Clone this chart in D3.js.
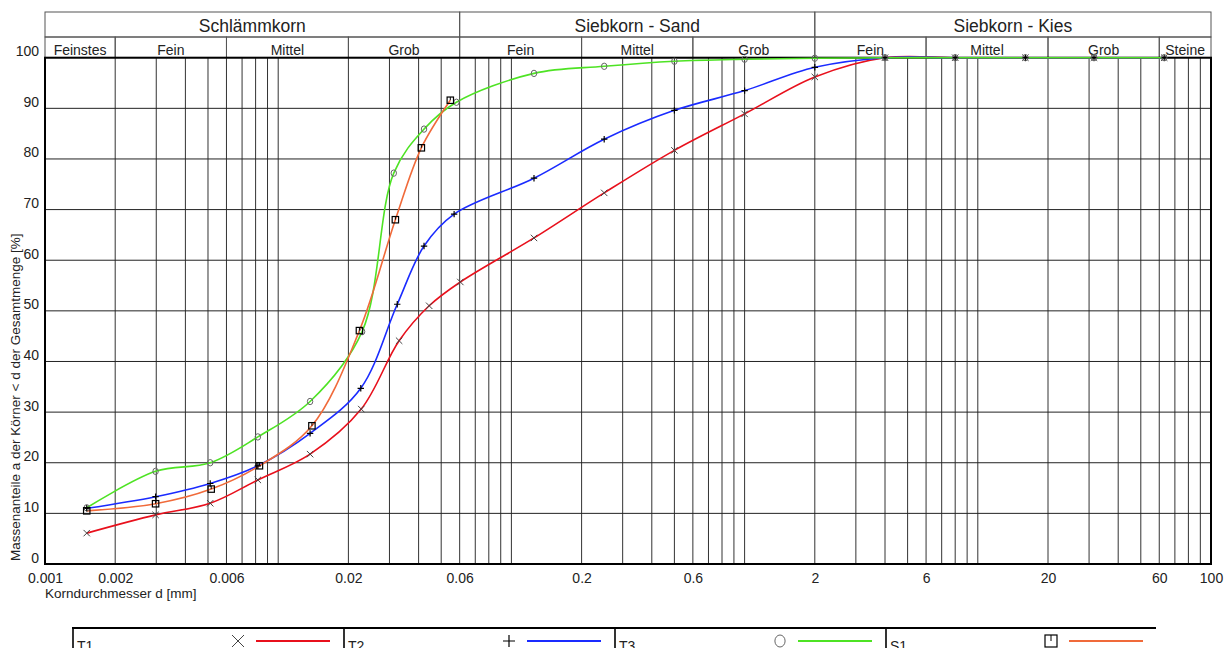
<!DOCTYPE html>
<html>
<head>
<meta charset="utf-8">
<script src="https://cdn.jsdelivr.net/npm/d3@7"></script>
<style>
  body { margin: 0; background: #fff; }
  text { font-family: "Liberation Sans", Arial, sans-serif; fill: #222; }
</style>
</head>
<body>
<script>
// sieve sizes [mm], shared by the three samples that were sieved
var sieveSizes = [0.125, 0.25, 0.5, 1, 2, 4, 8, 16, 31.5, 63];

// hydrometer (Schlämm) diameters [mm] and passing [%] per sample
var t1Diam = [0.00151, 0.00298, 0.00511, 0.00818, 0.0137, 0.0227, 0.0330, 0.0444, 0.0604];
var t1Pass = [6.1, 9.7, 12.0, 16.6, 21.7, 30.6, 44.1, 51.0, 55.7];
var t1Sieve = [64.4, 73.3, 81.7, 88.9, 96.2, 100, 100, 100, 100, 100];

var t2Diam = [0.00151, 0.00298, 0.00511, 0.00818, 0.0137, 0.0226, 0.0324, 0.0422, 0.0568];
var t2Pass = [11.0, 13.3, 15.9, 19.4, 25.8, 34.7, 51.3, 62.8, 69.1];
var t2Sieve = [76.2, 83.9, 89.6, 93.5, 98.1, 100, 100, 100, 100, 100];

var t3Diam = [0.00151, 0.00298, 0.00511, 0.00818, 0.0137, 0.0229, 0.0313, 0.0422, 0.0581];
var t3Pass = [11.1, 18.3, 20.0, 25.1, 32.1, 45.9, 77.2, 85.9, 91.2];
var t3Sieve = [96.9, 98.3, 99.3, 99.7, 99.9, 100, 100, 100, 100, 100];

var s1Diam = [0.00151, 0.00298, 0.00516, 0.00831, 0.01395, 0.0223, 0.0318, 0.0411, 0.0547];
var s1Pass = [10.5, 11.9, 14.8, 19.4, 27.3, 46.1, 68.0, 82.2, 91.6];

var seriesNames = ["T1", "T2", "T3", "S1"];

// axis ticks
var xTickValues = [0.001, 0.002, 0.006, 0.02, 0.06, 0.2, 0.6, 2, 6, 20, 60, 100];
var yTickValues = [0, 10, 20, 30, 40, 50, 60, 70, 80, 90, 100];

// header bands
var mainBands = [
  ["Schlämmkorn", 0.001, 0.06],
  ["Siebkorn - Sand", 0.06, 2],
  ["Siebkorn - Kies", 2, 100]
];
var subBands = [
  ["Feinstes", 0.001, 0.002], ["Fein", 0.002, 0.006], ["Mittel", 0.006, 0.02], ["Grob", 0.02, 0.06],
  ["Fein", 0.06, 0.2], ["Mittel", 0.2, 0.6], ["Grob", 0.6, 2],
  ["Fein", 2, 6], ["Mittel", 6, 20], ["Grob", 20, 60], ["Steine", 60, 100]
];

var series = [
  { name: "T1", d: t1Diam.concat(sieveSizes), v: t1Pass.concat(t1Sieve) },
  { name: "T2", d: t2Diam.concat(sieveSizes), v: t2Pass.concat(t2Sieve) },
  { name: "T3", d: t3Diam.concat(sieveSizes), v: t3Pass.concat(t3Sieve) },
  { name: "S1", d: s1Diam, v: s1Pass }
];
var colors = { T1: "#e8101c", T2: "#1a2bff", T3: "#4ee324", S1: "#f06a3a" };
var symbols = { T1: "cross", T2: "plus", T3: "circle", S1: "square" };

var svg = d3.select("body").append("svg").attr("width", 1231).attr("height", 648);

var pL = 45, pR = 1211, pT = 57.7, pB = 564;
var x = d3.scaleLog().domain([0.001, 100]).range([pL, pR]);
var y = d3.scaleLinear().domain([0, 100]).range([pB, pT]);

// grid: 1..9 in every decade
var gridX = [];
d3.range(-3, 2).forEach(function(p) {
  d3.range(1, 10).forEach(function(k) { gridX.push(k * Math.pow(10, p)); });
});

svg.append("g").selectAll("line").data(gridX.slice(1)).enter().append("line")
  .attr("x1", function(d) { return x(d); }).attr("x2", function(d) { return x(d); })
  .attr("y1", pT).attr("y2", pB)
  .attr("stroke", "#333").attr("stroke-width", 1);

svg.append("g").selectAll("line").data(yTickValues.slice(1, -1)).enter().append("line")
  .attr("x1", pL).attr("x2", pR)
  .attr("y1", function(d) { return y(d); }).attr("y2", function(d) { return y(d); })
  .attr("stroke", "#222").attr("stroke-width", 1);

// header
var hTop = 12, hMid = 37;
var hdr = svg.append("g");
hdr.selectAll("rect.main").data(mainBands).enter().append("rect")
  .attr("x", function(d) { return x(d[1]); }).attr("y", hTop)
  .attr("width", function(d) { return x(d[2]) - x(d[1]); }).attr("height", hMid - hTop)
  .attr("fill", "none").attr("stroke", "#555");
hdr.selectAll("rect.sub").data(subBands).enter().append("rect")
  .attr("x", function(d) { return x(d[1]); }).attr("y", hMid)
  .attr("width", function(d) { return x(d[2]) - x(d[1]); }).attr("height", pT - hMid)
  .attr("fill", "none").attr("stroke", "#555");
hdr.selectAll("text.main").data(mainBands).enter().append("text")
  .attr("x", function(d) { return (x(d[1]) + x(d[2])) / 2; }).attr("y", 32)
  .attr("text-anchor", "middle").style("font-size", "17.5px")
  .text(function(d) { return d[0]; });
hdr.selectAll("text.sub").data(subBands).enter().append("text")
  .attr("x", function(d) { return (x(d[1]) + x(d[2])) / 2; }).attr("y", 55)
  .attr("text-anchor", "middle").style("font-size", "14px")
  .text(function(d) { return d[0]; });

// frame
svg.append("rect").attr("x", pL).attr("y", pT)
  .attr("width", pR - pL).attr("height", pB - pT)
  .attr("fill", "none").attr("stroke", "#000").attr("stroke-width", 2);

// axes (labels only)
var xAxis = svg.append("g").attr("transform", "translate(0," + pB + ")")
  .call(d3.axisBottom(x).tickValues(xTickValues).tickSize(0).tickFormat(function(d) { return String(d); }));
xAxis.select(".domain").remove();
xAxis.selectAll("text").attr("y", 19).attr("dy", 0).style("font-size", "14px").attr("fill", "#222");

var yAxis = svg.append("g").attr("transform", "translate(" + 39 + ",0)")
  .call(d3.axisLeft(y).tickValues(yTickValues).tickSize(0));
yAxis.select(".domain").remove();
yAxis.selectAll("text").attr("x", 0).attr("dy", -2).attr("y", 0).style("font-size", "14px").attr("fill", "#222");

svg.append("text").attr("x", pL).attr("y", 598).style("font-size", "13.5px")
  .text("Korndurchmesser d [mm]");
svg.append("text").attr("transform", "translate(20,561) rotate(-90)")
  .style("font-size", "13.5px")
  .text("Massenanteile a der Körner < d der Gesamtmenge [%]");

// curves
var line = d3.line()
  .x(function(p) { return x(p[0]); })
  .y(function(p) { return y(p[1]); })
  .curve(d3.curveCatmullRom.alpha(0.5));

function pts(s) { return s.d.map(function(d, i) { return [d, s.v[i]]; }); }

svg.append("g").selectAll("path").data(series).enter().append("path")
  .attr("d", function(s) { return line(pts(s)); })
  .attr("fill", "none").attr("stroke", function(s) { return colors[s.name]; })
  .attr("stroke-width", 1.6);

function drawSymbol(g, type, cx, cy, r) {
  if (type === "cross") {
    g.append("path").attr("d", "M" + (cx - r) + "," + (cy - r) + "L" + (cx + r) + "," + (cy + r) +
      "M" + (cx - r) + "," + (cy + r) + "L" + (cx + r) + "," + (cy - r))
      .attr("stroke", "#444").attr("stroke-width", 1).attr("fill", "none");
  } else if (type === "plus") {
    g.append("path").attr("d", "M" + (cx - r) + "," + cy + "L" + (cx + r) + "," + cy +
      "M" + cx + "," + (cy - r) + "L" + cx + "," + (cy + r))
      .attr("stroke", "#000").attr("stroke-width", 1.2).attr("fill", "none");
  } else if (type === "circle") {
    g.append("ellipse").attr("cx", cx).attr("cy", cy).attr("rx", r * 0.85).attr("ry", r)
      .attr("stroke", "#666").attr("stroke-width", 1).attr("fill", "none");
  } else {
    g.append("rect").attr("x", cx - r).attr("y", cy - r).attr("width", 2 * r).attr("height", 2 * r)
      .attr("stroke", "#000").attr("stroke-width", 1.2).attr("fill", "none");
    g.append("line").attr("x1", cx).attr("x2", cx).attr("y1", cy - r).attr("y2", cy)
      .attr("stroke", "#000").attr("stroke-width", 1);
  }
}

var marks = svg.append("g");
series.forEach(function(s) {
  s.d.forEach(function(d, i) {
    drawSymbol(marks, symbols[s.name], x(d), y(s.v[i]), 3.2);
  });
});

// legend
var legLeft = 73, cellW = 271, legTop = 628, legY = 641;
var leg = svg.append("g");
leg.append("line").attr("x1", legLeft - 1).attr("x2", legLeft + cellW * 4 - 1)
  .attr("y1", legTop).attr("y2", legTop).attr("stroke", "#000").attr("stroke-width", 2.2);
seriesNames.forEach(function(n, i) {
  var cx = legLeft + i * cellW;
  leg.append("line").attr("x1", cx).attr("x2", cx).attr("y1", legTop).attr("y2", 648)
    .attr("stroke", "#000").attr("stroke-width", 1.6);
  leg.append("text").attr("x", cx + 4).attr("y", 651).style("font-size", "14px").text(n);
  drawSymbol(leg, symbols[n], cx + 165, legY, 6);
  leg.append("line").attr("x1", cx + 183).attr("x2", cx + 257).attr("y1", legY).attr("y2", legY)
    .attr("stroke", colors[n]).attr("stroke-width", 2.2);
});
</script>
</body>
</html>
